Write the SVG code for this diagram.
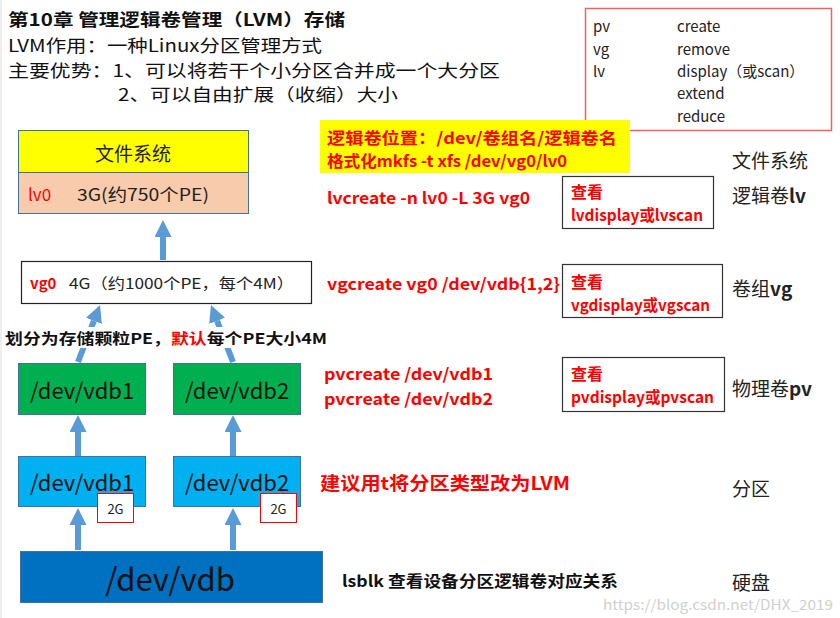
<svg xmlns="http://www.w3.org/2000/svg" width="840" height="618" viewBox="0 0 840 618">
<defs>
<marker id="ah" markerUnits="userSpaceOnUse" markerWidth="17" markerHeight="17" refX="0" refY="8.5" orient="auto"><path d="M0,0 L17,8.5 L0,17 z" fill="#5B9BD5"/></marker>
<style>
text{font-family:"Noto Sans CJK SC","Liberation Sans",sans-serif;dominant-baseline:central}
.h{font-size:17px;fill:#111}
.b{font-weight:bold}
.r{fill:#FF0000}
.cmd{font-size:16px;font-weight:bold;fill:#FF0000}
.lab{font-size:19px;fill:#222}
.box{font-size:22px;fill:#111;text-anchor:middle}
.arr{stroke:#5B9BD5;stroke-width:6;fill:none;marker-end:url(#ah)}
</style>
</defs>
<rect width="840" height="618" fill="#fff"/>
<line x1="1" y1="0" x2="1" y2="618" stroke="#ddd" stroke-width="1"/>
<g id="header">
<text class="h b" x="8" y="18" textLength="337" lengthAdjust="spacingAndGlyphs">第10章 管理逻辑卷管理（LVM）存储</text>
<text class="h" x="8" y="44" textLength="314" lengthAdjust="spacingAndGlyphs">LVM作用：一种Linux分区管理方式</text>
<text class="h" x="8" y="69" textLength="492" lengthAdjust="spacingAndGlyphs">主要优势：1、可以将若干个小分区合并成一个大分区</text>
<text class="h" x="118" y="93" textLength="280" lengthAdjust="spacingAndGlyphs">2、可以自由扩展（收缩）大小</text>
</g>
<g id="legend">
<rect x="585.5" y="8.5" width="246" height="122" fill="#fff" stroke="#F06060" stroke-width="1.5"/>
<text x="593" y="25" font-size="15" fill="#222">pv</text>
<text x="593" y="48" font-size="15" fill="#222">vg</text>
<text x="593" y="70" font-size="15" fill="#222">lv</text>
<text x="677" y="25" font-size="15" fill="#222">create</text>
<text x="677" y="48" font-size="15" fill="#222">remove</text>
<text x="677" y="70" font-size="15" fill="#222">display（或scan）</text>
<text x="677" y="92" font-size="15" fill="#222">extend</text>
<text x="677" y="115" font-size="15" fill="#222">reduce</text>
</g>
<g id="fs">
<rect x="18.5" y="130.5" width="230" height="42" fill="#FFFF00" stroke="#41719C" stroke-width="1"/>
<text x="133" y="152" font-size="19" fill="#222" text-anchor="middle">文件系统</text>
</g>
<g id="lv0">
<rect x="18.5" y="172.5" width="230" height="41" fill="#F8CBAD" stroke="#41719C" stroke-width="1"/>
<text x="28" y="193" font-size="17" class="r">lv0</text>
<text x="77" y="193" font-size="17" fill="#222" textLength="132" lengthAdjust="spacingAndGlyphs">3G(约750个PE)</text>
</g>
<g id="vg0">
<rect x="21.5" y="261.5" width="290" height="42" fill="#fff" stroke="#222" stroke-width="1.2"/>
<text x="30" y="282" font-size="15" class="r b">vg0</text>
<text x="69" y="282" font-size="15" fill="#222" textLength="225" lengthAdjust="spacingAndGlyphs">4G（约1000个PE，每个4M）</text>
</g>
<g id="pv1">
<rect x="18.5" y="363.5" width="127" height="51" fill="#00B050" stroke="#41719C" stroke-width="1"/>
<text class="box" x="82" y="389">/dev/vdb1</text>
</g>
<g id="pv2">
<rect x="173.5" y="363.5" width="127" height="51" fill="#00B050" stroke="#41719C" stroke-width="1"/>
<text class="box" x="237" y="389">/dev/vdb2</text>
</g>
<g id="part1">
<rect x="18.5" y="456.5" width="127" height="50" fill="#00B0F0" stroke="#41719C" stroke-width="1"/>
<text class="box" x="82" y="481">/dev/vdb1</text>
<rect x="97.5" y="493.5" width="36" height="29" fill="#fff" stroke="#FF0000" stroke-width="1"/>
<text x="115.5" y="508" font-size="13" fill="#222" text-anchor="middle">2G</text>
</g>
<g id="part2">
<rect x="173.5" y="456.5" width="127" height="50" fill="#00B0F0" stroke="#41719C" stroke-width="1"/>
<text class="box" x="237" y="481">/dev/vdb2</text>
<rect x="260.5" y="493.5" width="36" height="29" fill="#fff" stroke="#FF0000" stroke-width="1"/>
<text x="278.5" y="508" font-size="13" fill="#222" text-anchor="middle">2G</text>
</g>
<g id="disk">
<rect x="20.5" y="551.5" width="302" height="51" fill="#0070C0" stroke="#41719C" stroke-width="1"/>
<text x="170" y="577" font-size="31" fill="#111" text-anchor="middle">/dev/vdb</text>
</g>
<g id="connectors">
<line class="arr" x1="163" y1="260" x2="163" y2="237"/>
<line class="arr" x1="78" y1="362" x2="93.9" y2="320.9"/>
<line class="arr" x1="233" y1="362" x2="217.1" y2="320.9"/>
<line class="arr" x1="78" y1="456" x2="78" y2="432"/>
<line class="arr" x1="233" y1="456" x2="233" y2="432"/>
<line class="arr" x1="78" y1="550" x2="78" y2="525"/>
<line class="arr" x1="233" y1="550" x2="233" y2="525"/>
</g>
<g id="pe-note">
<rect x="3" y="327" width="326" height="21" fill="#fff"/>
<text x="5" y="337" font-size="15" class="b" fill="#111" textLength="322" lengthAdjust="spacingAndGlyphs">划分为存储颗粒PE，<tspan fill="#FF0000">默认</tspan>每个PE大小4M</text>
</g>
<g id="lv-note">
<rect x="320" y="120" width="310" height="53" fill="#FFFF00"/>
<text x="327" y="137" class="cmd" textLength="290" lengthAdjust="spacingAndGlyphs">逻辑卷位置：/dev/卷组名/逻辑卷名</text>
<text x="327" y="160" class="cmd" textLength="240" lengthAdjust="spacingAndGlyphs">格式化mkfs -t xfs /dev/vg0/lv0</text>
</g>
<g id="commands">
<text x="327" y="197" class="cmd" textLength="203" lengthAdjust="spacingAndGlyphs">lvcreate -n lv0 -L 3G vg0</text>
<text x="327" y="283" class="cmd" textLength="233" lengthAdjust="spacingAndGlyphs">vgcreate vg0 /dev/vdb{1,2}</text>
<text x="324" y="373" class="cmd" textLength="169" lengthAdjust="spacingAndGlyphs">pvcreate /dev/vdb1</text>
<text x="324" y="398" class="cmd" textLength="169" lengthAdjust="spacingAndGlyphs">pvcreate /dev/vdb2</text>
<text x="320" y="482" class="cmd" style="font-size:18px" textLength="250" lengthAdjust="spacingAndGlyphs">建议用t将分区类型改为LVM</text>
<text x="342" y="580" font-size="16" font-weight="bold" fill="#111" textLength="276" lengthAdjust="spacingAndGlyphs">lsblk 查看设备分区逻辑卷对应关系</text>
</g>
<g id="lv-view">
<rect x="562.5" y="176.5" width="151" height="52" fill="#fff" stroke="#333" stroke-width="1.2"/>
<text x="571" y="191" class="cmd">查看</text>
<text x="571" y="214" class="cmd" textLength="132" lengthAdjust="spacingAndGlyphs">lvdisplay或lvscan</text>
</g>
<g id="vg-view">
<rect x="562.5" y="264.5" width="160" height="53" fill="#fff" stroke="#333" stroke-width="1.2"/>
<text x="571" y="281" class="cmd">查看</text>
<text x="571" y="304" class="cmd" textLength="139" lengthAdjust="spacingAndGlyphs">vgdisplay或vgscan</text>
</g>
<g id="pv-view">
<rect x="562.5" y="357.5" width="162" height="54" fill="#fff" stroke="#333" stroke-width="1.2"/>
<text x="571" y="373" class="cmd">查看</text>
<text x="571" y="396" class="cmd" textLength="143" lengthAdjust="spacingAndGlyphs">pvdisplay或pvscan</text>
</g>
<g id="layers">
<text x="732" y="159" class="lab">文件系统</text>
<text x="732" y="194" class="lab">逻辑卷<tspan font-weight="bold">lv</tspan></text>
<text x="732" y="287" class="lab">卷组<tspan font-weight="bold">vg</tspan></text>
<text x="732" y="387" class="lab">物理卷<tspan font-weight="bold">pv</tspan></text>
<text x="732" y="487" class="lab">分区</text>
<text x="732" y="581" class="lab">硬盘</text>
</g>
<text x="603" y="604" font-size="14" fill="#d0d0d0" font-family="Liberation Sans, sans-serif" textLength="230" lengthAdjust="spacingAndGlyphs">https://blog.csdn.net/DHX_2019</text>
</svg>
